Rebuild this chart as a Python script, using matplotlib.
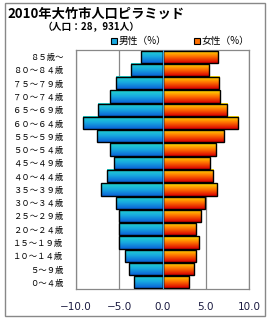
import numpy as np
import matplotlib
matplotlib.use('Agg')
import matplotlib.pyplot as plt
from matplotlib.colors import LinearSegmentedColormap
from matplotlib.patches import Rectangle

plt.rcParams['font.family'] = ['Noto Sans CJK JP', 'DejaVu Sans']

# age groups, bottom to top
ages = ['０～４歳', '５～９歳', '１０～１４歳', '１５～１９歳', '２０～２４歳',
        '２５～２９歳', '３０～３４歳', '３５～３９歳', '４０～４４歳', '４５～４９歳',
        '５０～５４歳', '５５～５９歳', '６０～６４歳', '６５～６９歳', '７０～７４歳',
        '７５～７９歳', '８０～８４歳', '８５歳～']
male = [3.35, 3.92, 4.38, 5.07, 5.0, 5.07, 5.42, 7.1, 6.42, 5.65,
        6.11, 7.57, 9.23, 7.5, 6.11, 5.42, 3.69, 2.49]
female = [3.08, 3.69, 3.92, 4.27, 3.92, 4.5, 4.96, 6.35, 5.88, 5.54,
          6.23, 7.12, 8.77, 7.46, 6.69, 6.58, 5.38, 6.46]
xticks = [-10, -5, 0, 5, 10]
xtick_labels = ['−10.0', '−5.0', '0.0', '5.0', '10.0']

male_cmap = LinearSegmentedColormap.from_list('m', ['#0a62d6', '#18a8e0', '#22d8d0'])
female_cmap = LinearSegmentedColormap.from_list('f', ['#d80000', '#ff7000', '#ffe400'])
grad = np.linspace(0, 1, 32).reshape(-1, 1)

fig = plt.figure(figsize=(2.7, 3.2), dpi=100)
ax = fig.add_axes([76 / 270, 31 / 320, 173 / 270, 239 / 320])

h = 0.92
for i in range(len(ages)):
    for val, cmap in ((-male[i], male_cmap), (female[i], female_cmap)):
        left, right = min(0, val), max(0, val)
        ax.imshow(grad, cmap=cmap, aspect='auto', origin='lower',
                  extent=(left, right, i - h / 2, i + h / 2), zorder=2)
        ax.add_patch(Rectangle((left, i - h / 2), right - left, h, fill=False,
                               edgecolor='black', lw=1.0, zorder=3))
ax.axvline(0, color='#4aa0d8', lw=0.8, zorder=4)

ax.set_xlim(-10, 10)
ax.set_ylim(-0.5, len(ages) - 0.5)
ax.set_xticks(xticks)
ax.set_xticklabels(xtick_labels, fontsize=7.5, color='#1a1a40', family='DejaVu Sans')
ax.set_yticks(range(len(ages)))
ax.set_yticklabels(ages, fontsize=6)
ax.tick_params(length=0, axis='y', pad=9)
ax.tick_params(length=0, axis='x', pad=9)
ax.grid(axis='x', color='#888888', lw=0.9, zorder=1)
for s in ax.spines.values():
    s.set_color('#888888')
    s.set_linewidth(0.9)

fig.text(7 / 270, 1 - 14 / 320, '2010年大竹市人口ピラミッド', fontsize=9.5,
         fontweight='bold', va='center', ha='left')
fig.text(43 / 270, 1 - 27 / 320, '（人口：28，931人）', fontsize=7,
         fontweight='bold', va='center', ha='left')

# legend
for x0, col, lab in ((111, '#18a8e0', '男性（%）'), (194, '#ff7000', '女性（%）')):
    fig.patches.append(Rectangle((x0 / 270, 1 - 44 / 320), 6 / 270, 6 / 320,
                                 transform=fig.transFigure, facecolor=col,
                                 edgecolor='black', lw=0.8))
    fig.text((x0 + 8) / 270, 1 - 41 / 320, lab, fontsize=7, va='center', ha='left')

fig.patches.append(Rectangle((5 / 270, 4 / 320), 260 / 270, 313 / 320,
                             transform=fig.transFigure, fill=False,
                             edgecolor='#888888', lw=1.0))

fig.savefig('out.png', dpi=100)
